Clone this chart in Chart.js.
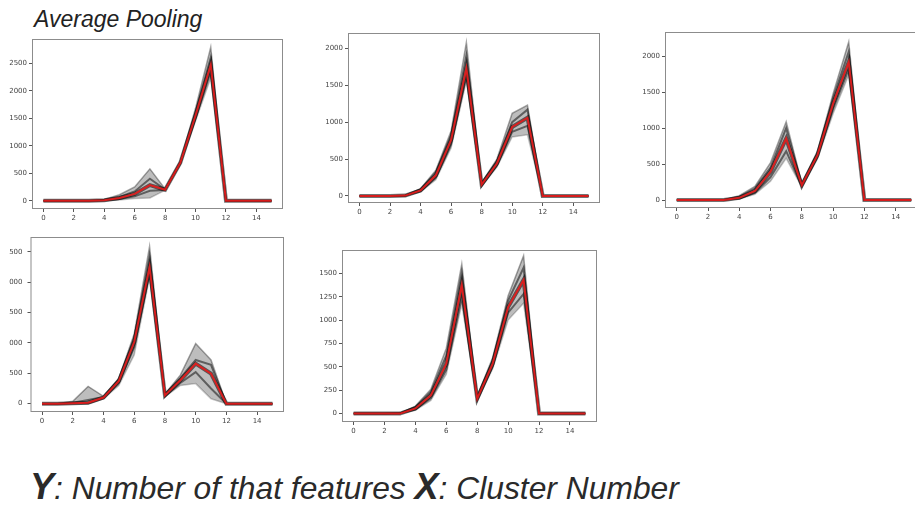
<!DOCTYPE html>
<html>
<head>
<meta charset="utf-8">
<script src="https://cdn.jsdelivr.net/npm/chart.js@4.4.0/dist/chart.umd.min.js"></script>
<style>
  html, body { margin: 0; padding: 0; background: #fff; width: 915px; height: 508px; overflow: hidden; }
  .panel { position: absolute; }
  #title { position: absolute; left: 34px; top: 6px; font: italic 23px "Liberation Sans", Arial, sans-serif; color: #222; }
  #caption { position: absolute; left: 30px; top: 466px; font: italic 31.8px "Liberation Sans", Arial, sans-serif; color: #2a2a2a; white-space: nowrap; }
  #caption b { font-size: 36px; }
</style>
</head>
<body>
<div id="title">Average Pooling</div>
<div id="caption"><b>Y</b>: Number of that features <b>X</b>: Cluster Number</div>

<script>
// cluster index on the x axis
const clusters = [0, 1, 2, 3, 4, 5, 6, 7, 8, 9, 10, 11, 12, 13, 14, 15];
const xTicks = [0, 2, 4, 6, 8, 10, 12, 14];

// panel 1 (top left)
const p1Mean  = [0, 0, 0, 0, 10, 50, 125, 285, 200, 690, 1550, 2470, 0, 0, 0, 0];
const p1Upper = [0, 0, 0, 0, 25, 110, 250, 580, 215, 720, 1680, 2790, 0, 0, 0, 0];
const p1Hi    = [0, 0, 0, 0, 15, 70, 170, 400, 205, 700, 1600, 2600, 0, 0, 0, 0];
const p1Lo    = [0, 0, 0, 0, 5, 30, 80, 180, 195, 680, 1500, 2350, 0, 0, 0, 0];
const p1Lower = [0, 0, 0, 0, 0, 15, 40, 50, 190, 660, 1450, 2230, 0, 0, 0, 0];
const p1Ticks = [0, 500, 1000, 1500, 2000, 2500];

// panel 2 (top middle)
const p2Mean  = [0, 0, 0, 5, 75, 280, 760, 1730, 155, 440, 935, 1060, 0, 0, 0, 0];
const p2Upper = [0, 0, 0, 10, 100, 350, 880, 2080, 180, 500, 1120, 1230, 0, 0, 0, 0];
const p2Hi    = [0, 0, 0, 8, 88, 320, 820, 1900, 170, 470, 1000, 1170, 0, 0, 0, 0];
const p2Lo    = [0, 0, 0, 3, 65, 250, 700, 1620, 140, 415, 870, 950, 0, 0, 0, 0];
const p2Lower = [0, 0, 0, 0, 55, 220, 650, 1560, 130, 390, 800, 830, 0, 0, 0, 0];
const p2Ticks = [0, 500, 1000, 1500, 2000];

// panel 3 (top right)
const p3Mean  = [0, 0, 0, 0, 30, 125, 395, 855, 205, 625, 1340, 1920, 0, 0, 0, 0];
const p3Upper = [0, 0, 0, 5, 60, 190, 520, 1090, 230, 680, 1480, 2200, 0, 0, 0, 0];
const p3Hi    = [0, 0, 0, 2, 45, 160, 450, 1000, 220, 650, 1420, 2060, 0, 0, 0, 0];
const p3Lo    = [0, 0, 0, 0, 20, 100, 320, 680, 190, 600, 1270, 1820, 0, 0, 0, 0];
const p3Lower = [0, 0, 0, 0, 15, 80, 260, 580, 180, 570, 1200, 1740, 0, 0, 0, 0];
const p3Ticks = [0, 500, 1000, 1500, 2000];

// panel 4 (bottom left)
const p4Mean  = [0, 0, 5, 15, 100, 375, 1015, 2250, 135, 385, 660, 495, 0, 0, 0, 0];
const p4Upper = [0, 0, 40, 285, 120, 420, 1150, 2590, 160, 470, 990, 720, 0, 0, 0, 0];
const p4Hi    = [0, 0, 15, 60, 110, 400, 1080, 2420, 150, 420, 720, 640, 0, 0, 0, 0];
const p4Lo    = [0, 0, 2, 5, 90, 340, 930, 2150, 120, 340, 520, 250, 0, 0, 0, 0];
const p4Lower = [0, 0, 0, 0, 80, 300, 800, 2080, 110, 300, 330, 80, 0, 0, 0, 0];
const p4Ticks = [0, 500, 1000, 1500, 2000, 2500];

// panel 5 (bottom middle)
const p5Mean  = [0, 0, 0, 0, 55, 195, 535, 1375, 160, 535, 1140, 1430, 0, 0, 0, 0];
const p5Upper = [0, 0, 0, 5, 80, 260, 700, 1600, 185, 600, 1260, 1690, 0, 0, 0, 0];
const p5Hi    = [0, 0, 0, 3, 70, 230, 620, 1500, 175, 570, 1210, 1560, 0, 0, 0, 0];
const p5Lo    = [0, 0, 0, 0, 45, 165, 470, 1250, 145, 505, 1080, 1280, 0, 0, 0, 0];
const p5Lower = [0, 0, 0, 0, 35, 140, 420, 1170, 135, 480, 1000, 1180, 0, 0, 0, 0];
const p5Ticks = [0, 250, 500, 750, 1000, 1250, 1500];

const X_H = 16;  // x axis height

// yw = width kept for the y axis; panel 4 is cut at the page edge in the original,
// so its labels sit further out and lose their first digit
const panels = [
  { box: [32, 39, 283, 209],      yw: 32,   pad: 2, yMin: -150, yMax: 2940, ticks: p1Ticks, series: [p1Mean, p1Upper, p1Lower, p1Hi, p1Lo] },
  { box: [347.5, 33, 599.5, 203], yw: 32,   pad: 2, yMin: -95,  yMax: 2208, ticks: p2Ticks, series: [p2Mean, p2Upper, p2Lower, p2Hi, p2Lo] },
  { box: [665, 32, 923, 208],     yw: 32,   pad: 2, yMin: -111, yMax: 2337, ticks: p3Ticks, series: [p3Mean, p3Upper, p3Lower, p3Hi, p3Lo] },
  { box: [30.5, 237, 284, 412],   yw: 21.5, pad: 5, yMin: -138, yMax: 2747, ticks: p4Ticks, series: [p4Mean, p4Upper, p4Lower, p4Hi, p4Lo] },
  { box: [342, 250, 597, 422],    yw: 32,   pad: 2, yMin: -90,  yMax: 1750, ticks: p5Ticks, series: [p5Mean, p5Upper, p5Lower, p5Hi, p5Lo] }
];

const toPoints = arr => arr.map((v, i) => ({ x: clusters[i], y: v }));

// matplotlib-like box around the plot area
const boxPlugin = {
  id: 'boxBorder',
  afterDraw(chart) {
    const a = chart.chartArea;
    const ctx = chart.ctx;
    ctx.save();
    ctx.strokeStyle = '#8c8c8c';
    ctx.lineWidth = 1;
    ctx.strokeRect(a.left + 0.5, a.top + 0.5, a.right - a.left - 1, a.bottom - a.top - 1);
    ctx.restore();
  }
};

panels.forEach(p => {
  const [L, T, R, B] = p.box;
  const div = document.createElement('div');
  div.className = 'panel';
  div.style.left = (L - p.yw) + 'px';
  div.style.top = (T - 1) + 'px';
  const canvas = document.createElement('canvas');
  canvas.width = Math.round(R - L + p.yw + 1);
  canvas.height = Math.round(B - T + X_H + 1);
  div.appendChild(canvas);
  document.body.appendChild(div);

  const [mean, upper, lower, hi, lo] = p.series;
  const line = (data, color, width, extra) => Object.assign({
    data: toPoints(data),
    borderColor: color,
    borderWidth: width,
    pointRadius: 0,
    tension: 0,
    fill: false
  }, extra || {});

  new Chart(canvas.getContext('2d'), {
    type: 'line',
    data: {
      datasets: [
        line(mean, 'rgba(225, 28, 28, 0.95)', 2),
        line(mean, 'rgba(0, 0, 0, 0.55)', 4),
        line(hi, 'rgba(0, 0, 0, 0.5)', 2),
        line(lo, 'rgba(0, 0, 0, 0.5)', 2),
        line(upper, 'rgba(0, 0, 0, 0.35)', 1.5, { fill: '+1', backgroundColor: 'rgba(0, 0, 0, 0.26)' }),
        line(lower, 'rgba(0, 0, 0, 0.22)', 1.5)
      ]
    },
    options: {
      responsive: false,
      animation: false,
      layout: { padding: { top: 1, right: 1, left: 0, bottom: 0 } },
      plugins: { legend: { display: false }, tooltip: { enabled: false } },
      scales: {
        x: {
          type: 'linear',
          min: -0.75,
          max: 15.75,
          afterBuildTicks: s => { s.ticks = xTicks.map(v => ({ value: v })); },
          afterFit: s => { s.height = X_H; s.paddingLeft = 0; s.paddingRight = 0; },
          border: { display: false },
          grid: { drawOnChartArea: false, drawTicks: true, tickLength: 3, color: '#555' },
          ticks: { font: { size: 7, family: 'DejaVu Sans' }, color: '#444', padding: 2, maxRotation: 0,
                   callback: v => String(v) }
        },
        y: {
          min: p.yMin,
          max: p.yMax,
          afterBuildTicks: s => { s.ticks = p.ticks.map(v => ({ value: v })); },
          afterFit: s => { s.width = p.yw; s.paddingTop = 0; s.paddingBottom = 0; },
          border: { display: false },
          grid: { drawOnChartArea: false, drawTicks: true, tickLength: 3, color: '#555' },
          ticks: { font: { size: 7, family: 'DejaVu Sans' }, color: '#444', padding: p.pad,
                   callback: v => String(v) }
        }
      }
    },
    plugins: [boxPlugin]
  });
});
</script>
</body>
</html>
